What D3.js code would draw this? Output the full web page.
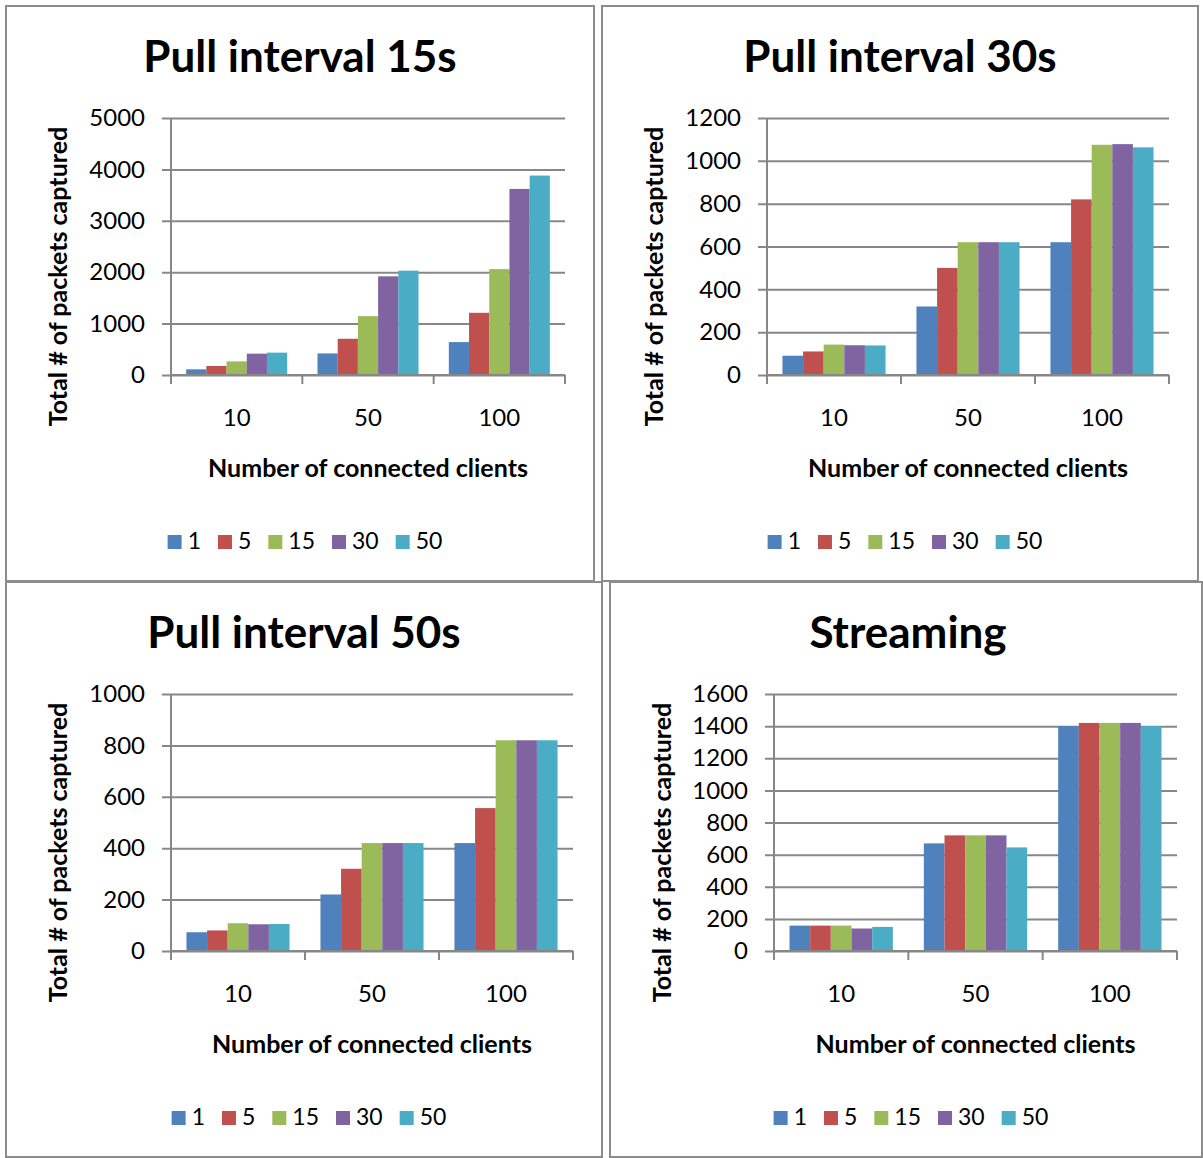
<!DOCTYPE html>
<html>
<head>
<meta charset="utf-8">
<script src="https://cdn.jsdelivr.net/npm/d3@7"></script>
<style>
  body { margin: 0; background: #fff; }
  text { font-family: Lato, "Open Sans", sans-serif; fill: #000; }
</style>
</head>
<body>
<div id="chart"></div>
<script>
// categories and series
var clients = ["10", "50", "100"];
var intervals = ["1", "5", "15", "30", "50"];
var colors = ["#4F81BD", "#C0504D", "#9BBB59", "#8064A2", "#4BACC6"];

// values: one row per series (1, 5, 15, 30, 50), one column per client count
var pull15 = [
  [110, 420, 640],
  [175, 705, 1210],
  [265, 1145, 2060],
  [415, 1920, 3620],
  [435, 2030, 3880]
];
var pull30 = [
  [90, 320, 620],
  [110, 500, 820],
  [142, 620, 1075],
  [139, 620, 1078],
  [138, 620, 1063]
];
var pull50 = [
  [73, 220, 420],
  [80, 320, 556],
  [108, 420, 820],
  [104, 420, 820],
  [105, 420, 820]
];
var streaming = [
  [158, 670, 1400],
  [158, 720, 1420],
  [158, 720, 1420],
  [140, 720, 1420],
  [150, 645, 1400]
];

var titles = ["Pull interval 15s", "Pull interval 30s", "Pull interval 50s", "Streaming"];
var yTicks15 = [0, 1000, 2000, 3000, 4000, 5000];
var yTicks30 = [0, 200, 400, 600, 800, 1000, 1200];
var yTicks50 = [0, 200, 400, 600, 800, 1000];
var yTicksStream = [0, 200, 400, 600, 800, 1000, 1200, 1400, 1600];

var W = 1203, H = 1158;
var svg = d3.select("#chart").append("svg")
    .attr("width", W)
    .attr("height", H);

// layout of each panel (pixels)
var panels = [
  {title: titles[0], values: pull15, ticks: yTicks15, box: [6, 6, 594, 581], plot: [171, 118, 565, 375], titleX: 300, titleY: 72, yTitleX: 67},
  {title: titles[1], values: pull30, ticks: yTicks30, box: [602, 6, 1198, 581], plot: [767, 118, 1169, 375], titleX: 900, titleY: 72, yTitleX: 663},
  {title: titles[2], values: pull50, ticks: yTicks50, box: [6, 582, 602, 1157], plot: [171, 694, 573, 951], titleX: 304, titleY: 648, yTitleX: 67},
  {title: titles[3], values: streaming, ticks: yTicksStream, box: [610, 582, 1202, 1157], plot: [774, 694, 1177, 951], titleX: 908, titleY: 648, yTitleX: 671}
];

var gridColor = "#878787";

panels.forEach(function(p) {
    var b = p.box;
    // panel frame
    svg.append("rect")
        .attr("x", b[0]).attr("y", b[1])
        .attr("width", b[2] - b[0]).attr("height", b[3] - b[1])
        .attr("fill", "none")
        .attr("stroke", "#8c8c8c")
        .attr("stroke-width", 2);

    var left = p.plot[0], top = p.plot[1];
    var width = p.plot[2] - p.plot[0], height = p.plot[3] - p.plot[1];
    var g = svg.append("g").attr("transform", `translate(${left},${top})`);

    var x0 = d3.scaleBand().domain(clients).range([0, width]).padding(0);
    var x1 = d3.scaleBand().domain(intervals).range([0, x0.bandwidth()])
        .paddingInner(0).paddingOuter(0.75);
    var y = d3.scaleLinear().domain([0, d3.max(p.ticks)]).range([height, 0]);

    // gridlines + y labels
    var yAxis = g.append("g")
        .call(d3.axisLeft(y).tickValues(p.ticks).tickFormat(d3.format("d"))
            .tickSizeInner(-width).tickSizeOuter(0).tickPadding(26));
    yAxis.select(".domain").remove();
    yAxis.selectAll("line")
        .attr("x1", -9)
        .attr("stroke", gridColor)
        .attr("stroke-width", 2);
    yAxis.selectAll("text")
        .style("font-family", "Lato, sans-serif")
        .style("font-size", "24px")
        .attr("fill", "#000");

    // bars
    var series = g.append("g").selectAll("g")
        .data(p.values)
        .enter().append("g")
        .attr("fill", function(d, i) { return colors[i]; });
    series.selectAll("rect")
        .data(function(d, i) {
            return d.map(function(v, j) { return {s: intervals[i], c: clients[j], v: v}; });
        })
        .enter().append("rect")
        .attr("x", function(d) { return x0(d.c) + x1(d.s); })
        .attr("y", function(d) { return y(d.v); })
        .attr("width", x1.bandwidth())
        .attr("height", function(d) { return height - y(d.v); });

    // y axis line
    g.append("line")
        .attr("x1", 0).attr("x2", 0).attr("y1", 0).attr("y2", height)
        .attr("stroke", gridColor).attr("stroke-width", 2);

    // x axis with ticks at category boundaries
    var xAxis = g.append("g").attr("transform", `translate(0,${height})`);
    xAxis.append("line")
        .attr("x1", 0).attr("x2", width)
        .attr("stroke", gridColor).attr("stroke-width", 2);
    xAxis.selectAll(".bound")
        .data(d3.range(clients.length + 1))
        .enter().append("line")
        .attr("x1", function(i) { return i * x0.step(); })
        .attr("x2", function(i) { return i * x0.step(); })
        .attr("y1", 0).attr("y2", 9)
        .attr("stroke", gridColor).attr("stroke-width", 2);
    xAxis.selectAll(".lbl")
        .data(clients)
        .enter().append("text")
        .attr("x", function(d) { return x0(d) + x0.bandwidth() / 2; })
        .attr("y", 51)
        .attr("text-anchor", "middle")
        .style("font-size", "24px")
        .text(function(d) { return d; });

    // x title
    g.append("text")
        .attr("x", width / 2)
        .attr("y", height + 102)
        .attr("text-anchor", "middle")
        .style("font-size", "25px")
        .style("font-weight", "bold")
        .text("Number of connected clients");

    // y title
    svg.append("text")
        .attr("transform", `translate(${p.yTitleX},${top + height / 2 + 30}) rotate(-90)`)
        .attr("text-anchor", "middle")
        .style("font-size", "25px")
        .style("font-weight", "bold")
        .text("Total # of packets captured");

    // chart title
    svg.append("text")
        .attr("x", p.titleX)
        .attr("y", p.titleY)
        .attr("text-anchor", "middle")
        .style("font-size", "44px")
        .style("font-weight", "bold")
        .text(p.title);

    // legend
    var leg = svg.append("g");
    var cx = 0;
    intervals.forEach(function(s, i) {
        leg.append("rect")
            .attr("x", cx).attr("y", -14)
            .attr("width", 14).attr("height", 14)
            .attr("fill", colors[i]);
        var t = leg.append("text")
            .attr("x", cx + 20).attr("y", 0)
            .style("font-size", "23px")
            .text(s);
        cx += 20 + t.node().getComputedTextLength() + 17;
    });
    var legW = cx - 17;
    leg.attr("transform", `translate(${(b[0] + b[2]) / 2 + 5 - legW / 2},${top + height + 174})`);
});
</script>
</body>
</html>
